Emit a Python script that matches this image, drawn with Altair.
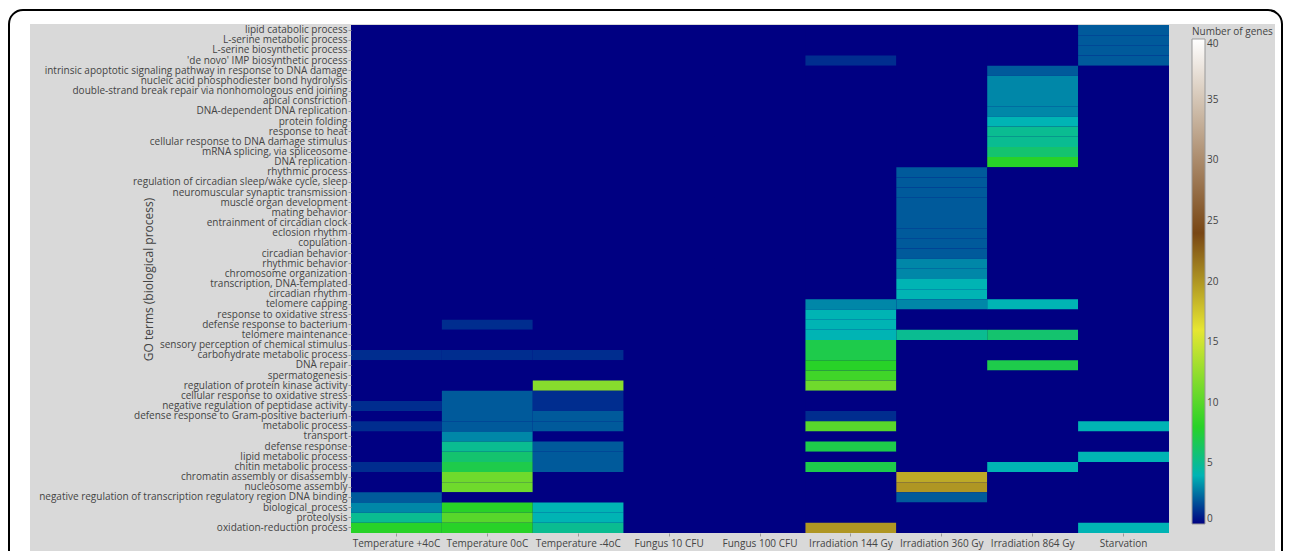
import altair as alt
import pandas as pd

terms = [
    "lipid catabolic process",
    "L-serine metabolic process",
    "L-serine biosynthetic process",
    "'de novo' IMP biosynthetic process",
    "intrinsic apoptotic signaling pathway in response to DNA damage",
    "nucleic acid phosphodiester bond hydrolysis",
    "double-strand break repair via nonhomologous end joining",
    "apical constriction",
    "DNA-dependent DNA replication",
    "protein folding",
    "response to heat",
    "cellular response to DNA damage stimulus",
    "mRNA splicing, via spliceosome",
    "DNA replication",
    "rhythmic process",
    "regulation of circadian sleep/wake cycle, sleep",
    "neuromuscular synaptic transmission",
    "muscle organ development",
    "mating behavior",
    "entrainment of circadian clock",
    "eclosion rhythm",
    "copulation",
    "circadian behavior",
    "rhythmic behavior",
    "chromosome organization",
    "transcription, DNA-templated",
    "circadian rhythm",
    "telomere capping",
    "response to oxidative stress",
    "defense response to bacterium",
    "telomere maintenance",
    "sensory perception of chemical stimulus",
    "carbohydrate metabolic process",
    "DNA repair",
    "spermatogenesis",
    "regulation of protein kinase activity",
    "cellular response to oxidative stress",
    "negative regulation of peptidase activity",
    "defense response to Gram-positive bacterium",
    "metabolic process",
    "transport",
    "defense response",
    "lipid metabolic process",
    "chitin metabolic process",
    "chromatin assembly or disassembly",
    "nucleosome assembly",
    "negative regulation of transcription regulatory region DNA binding",
    "biological_process",
    "proteolysis",
    "oxidation-reduction process",
]

conditions = [
    "Temperature +4oC", "Temperature 0oC", "Temperature -4oC",
    "Fungus 10 CFU", "Fungus 100 CFU", "Irradiation 144 Gy",
    "Irradiation 360 Gy", "Irradiation 864 Gy", "Starvation",
]

# values per condition, in the order of `terms` (top to bottom)
temp_p4 = [0]*32 + [1, 0, 0, 0, 0, 1, 0, 1, 0, 0, 0, 1, 0, 0, 2, 3, 5, 8]
temp_0 = [0]*29 + [1, 0, 0, 1, 0, 0, 0, 2, 2, 2, 2, 3, 5, 6, 7, 11, 11, 0, 8, 10, 8]
temp_m4 = [0]*32 + [1, 0, 0, 12, 1, 1, 2, 2, 0, 2, 2, 2, 0, 0, 0, 4, 4, 5]
fungus_10 = [0]*50
fungus_100 = [0]*50
irr_144 = ([0, 0, 0, 1] + [0]*23 + [3, 4, 4, 4, 7, 7, 8, 9, 11, 0, 0, 1, 10, 0, 7, 0, 7, 0, 0, 0, 0, 0, 20])
irr_360 = ([0]*14 + [2]*9 + [3, 3, 4, 4, 3, 0, 0, 5] + [0]*13 + [19, 20, 2, 0, 0, 0])
irr_864 = ([0]*4 + [2, 3, 3, 3, 3, 4, 5, 5, 6, 8] + [0]*13 + [4, 0, 0, 6, 0, 0, 7] + [0]*9 + [4] + [0]*6)
starvation = ([2, 2, 2, 2] + [0]*35 + [4, 0, 0, 4] + [0]*6 + [4])

series = [temp_p4, temp_0, temp_m4, fungus_10, fungus_100, irr_144, irr_360, irr_864, starvation]

rows = []
for cond, vals in zip(conditions, series):
    for term, v in zip(terms, vals):
        rows.append({"condition": cond, "term": term, "genes": v})
df = pd.DataFrame(rows)

FONT = "Open Sans"
W, H = 818, 508

earth_domain = [0, 4, 8, 16, 24, 40]
earth_range = ["#000082", "#00b4b4", "#28d228", "#e6e632", "#784614", "#ffffff"]

one = pd.DataFrame({"k": [0]})

panel = alt.Chart(one).mark_rect(color="#d9d9d9").encode(
    x=alt.value(-321), x2=alt.value(924), y=alt.value(-1), y2=alt.value(560)
)

plot_bg = alt.Chart(one).mark_rect(color=earth_range[0]).encode(
    x=alt.value(0), x2=alt.value(W), y=alt.value(0), y2=alt.value(H)
)

border = alt.Chart(one).mark_rect(
    fill="white", fillOpacity=0, stroke="black", strokeWidth=2, cornerRadius=14
).encode(
    x=alt.value(-342), x2=alt.value(931), y=alt.value(-15), y2=alt.value(620)
)

heat = alt.Chart(df).mark_rect(strokeWidth=0).encode(
    x=alt.X(
        "condition:N", sort=conditions,
        scale=alt.Scale(paddingInner=0, paddingOuter=0),
        axis=alt.Axis(title=None, labelAngle=0, labelFont=FONT, labelFontSize=10,
                      labelColor="#444", tickColor="#999", tickSize=3,
                      labelPadding=2, domain=False, grid=False, labelLimit=200),
    ),
    y=alt.Y(
        "term:N", sort=terms,
        scale=alt.Scale(paddingInner=0, paddingOuter=0),
        axis=alt.Axis(title="GO terms (biological process)", labelFont=FONT,
                      labelFontSize=10, labelColor="#444", tickColor="#999",
                      tickSize=3, labelPadding=1, domain=False, grid=False,
                      labelLimit=500,
                      titleFont=FONT, titleFontSize=12, titleFontWeight="normal",
                      titleColor="#444", titleX=-203, titleY=254,
                      titleBaseline="middle", titleAlign="center"),
    ),
    color=alt.Color(
        "genes:Q",
        scale=alt.Scale(domain=earth_domain, range=earth_range, interpolate="rgb"),
        legend=alt.Legend(
            title="Number of genes", orient="none", legendX=841, legendY=2,
            direction="vertical", gradientLength=485, gradientThickness=13,
            gradientStrokeColor="#999", gradientStrokeWidth=1,
            values=[0, 5, 10, 15, 20, 25, 30, 35, 40],
            labelFont=FONT, labelFontSize=10, labelColor="#444",
            titleFont=FONT, titleFontSize=10, titleFontWeight="normal",
            titleColor="#444", titlePadding=2, padding=0, labelOffset=2,
            titleLimit=200,
        ),
    ),
)

chart = alt.layer(panel, plot_bg, heat, border).properties(
    width=W, height=H,
    autosize=alt.AutoSizeParams(type="none"),
    padding={"left": 343, "top": 17, "right": 115, "bottom": 18},
    background="white",
).configure_view(stroke=None)

chart.save("out.html", embed_options={"renderer": "svg", "actions": False})
